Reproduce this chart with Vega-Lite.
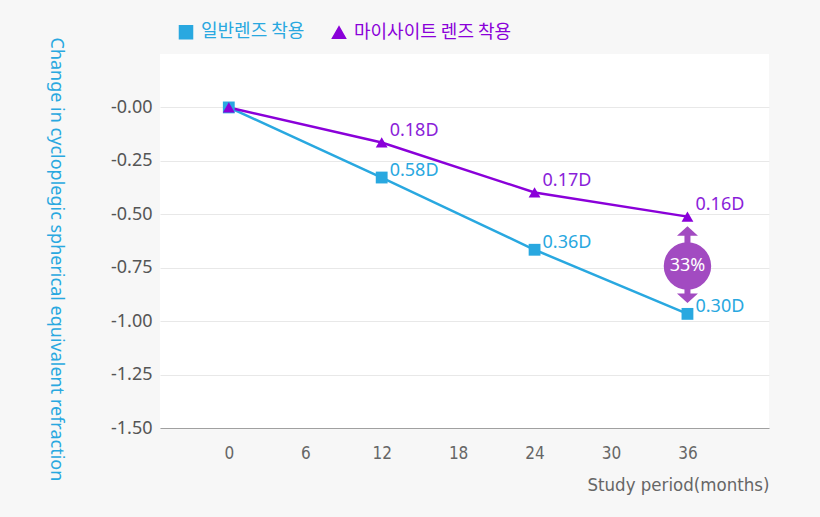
{
  "$schema": "https://vega.github.io/schema/vega-lite/v6.json",
  "width": 609,
  "height": 374,
  "autosize": {"type": "none"},
  "padding": {"left": 160, "top": 54, "right": 51, "bottom": 89},
  "background": "#f7f7f7",
  "config": {
    "view": {"fill": "white", "stroke": null},
    "font": "Noto Sans",
    "legend": {
      "orient": "top",
      "offset": -5,
      "padding": 17,
      "direction": "horizontal",
      "labelFont": "Noto Sans CJK KR",
      "labelFontSize": 18,
      "symbolSize": 170,
      "labelOffset": 6,
      "columnPadding": 24
    }
  },
  "datasets": {
    "series": [
      {"series": "일반렌즈 착용", "month": 0, "value": 0, "label": ""},
      {"series": "일반렌즈 착용", "month": 12, "value": -0.328, "label": "0.58D"},
      {"series": "일반렌즈 착용", "month": 24, "value": -0.666, "label": "0.36D"},
      {"series": "일반렌즈 착용", "month": 36, "value": -0.966, "label": "0.30D"},
      {"series": "마이사이트 렌즈 착용", "month": 0, "value": 0, "label": ""},
      {"series": "마이사이트 렌즈 착용", "month": 12, "value": -0.164, "label": "0.18D"},
      {"series": "마이사이트 렌즈 착용", "month": 24, "value": -0.398, "label": "0.17D"},
      {"series": "마이사이트 렌즈 착용", "month": 36, "value": -0.511, "label": "0.16D"}
    ]
  },
  "layer": [
    {
      "data": {"name": "series"},
      "mark": {"type": "line", "strokeWidth": 2.5},
      "encoding": {
        "x": {
          "field": "month",
          "type": "quantitative",
          "scale": {"domain": [-5.4, 42.4], "nice": false, "zero": false},
          "axis": {
            "values": [0, 6, 12, 18, 24, 30, 36],
            "grid": false,
            "ticks": false,
            "domain": true,
            "domainColor": "#a0a0a0",
            "labelFont": "DejaVu Sans Condensed",
            "labelFontSize": 17,
            "labelColor": "#666666",
            "labelPadding": 17,
            "title": "Study period(months)",
            "titleFont": "DejaVu Sans Condensed",
            "titleFontSize": 18.5,
            "titleFontWeight": "normal",
            "titleColor": "#666666",
            "titleAlign": "right",
            "titleBaseline": "alphabetic",
            "titleX": 609,
            "titleY": 62
          }
        },
        "y": {
          "field": "value",
          "type": "quantitative",
          "scale": {"domain": [-1.5, 0.25], "nice": false, "zero": false},
          "axis": {
            "values": [-1.5, -1.25, -1, -0.75, -0.5, -0.25, 0],
            "labelExpr": "'-' + format(abs(datum.value), '.2f')",
            "grid": true,
            "gridColor": "#e8e8e8",
            "ticks": false,
            "domain": false,
            "labelPadding": 8,
            "labelFontSize": 18,
            "labelColor": "#555555",
            "title": "Change in cycloplegic spherical equivalent refraction",
            "titleFontSize": 18,
            "titleFontWeight": "normal",
            "titleColor": "#29a8e0",
            "titleAngle": 90,
            "titleAlign": "left",
            "titleBaseline": "middle",
            "titleX": -105,
            "titleY": -17
          }
        },
        "color": {
          "field": "series",
          "type": "nominal",
          "scale": {"domain": ["일반렌즈 착용", "마이사이트 렌즈 착용"], "range": ["#29a8e0", "#8a00d9"]},
          "legend": {
            "title": null,
            "encode": {"labels": {"update": {"fill": {"scale": "color", "field": "value"}}}}
          }
        }
      }
    },
    {
      "data": {"name": "series"},
      "mark": {"type": "point", "filled": true, "opacity": 1, "size": 140},
      "encoding": {
        "x": {"field": "month", "type": "quantitative"},
        "y": {"field": "value", "type": "quantitative"},
        "color": {
          "field": "series",
          "type": "nominal",
          "scale": {"domain": ["일반렌즈 착용", "마이사이트 렌즈 착용"], "range": ["#29a8e0", "#8a00d9"]},
          "legend": {
            "title": null,
            "encode": {"labels": {"update": {"fill": {"scale": "color", "field": "value"}}}}
          }
        },
        "shape": {
          "field": "series",
          "type": "nominal",
          "scale": {"domain": ["일반렌즈 착용", "마이사이트 렌즈 착용"], "range": ["square", "triangle-up"]},
          "legend": {
            "title": null,
            "encode": {"labels": {"update": {"fill": {"scale": "color", "field": "value"}}}}
          }
        }
      }
    },
    {
      "data": {"name": "series"},
      "transform": [{"filter": "datum.series == '일반렌즈 착용'"}],
      "mark": {"type": "text", "align": "left", "baseline": "middle", "dx": 8, "dy": -7, "fontSize": 18, "color": "#29a8e0"},
      "encoding": {
        "x": {"field": "month", "type": "quantitative"},
        "y": {"field": "value", "type": "quantitative"},
        "text": {"field": "label"}
      }
    },
    {
      "data": {"name": "series"},
      "transform": [{"filter": "datum.series == '마이사이트 렌즈 착용'"}],
      "mark": {"type": "text", "align": "left", "baseline": "middle", "dx": 8, "dy": -11.5, "fontSize": 18, "color": "#8a1ed9"},
      "encoding": {
        "x": {"field": "month", "type": "quantitative"},
        "y": {"field": "value", "type": "quantitative"},
        "text": {"field": "label"}
      }
    },
    {
      "data": {"values": [{"month": 36, "top": -0.58, "bottom": -0.89}]},
      "mark": {"type": "rule", "strokeWidth": 6, "color": "#a24bc1"},
      "encoding": {
        "x": {"field": "month", "type": "quantitative"},
        "y": {"field": "top", "type": "quantitative"},
        "y2": {"field": "bottom"}
      }
    },
    {
      "data": {"values": [{"month": 36, "value": -0.578}]},
      "mark": {"type": "point", "filled": true, "opacity": 1, "size": 440, "color": "#a24bc1", "shape": "M-1,0.45L1,0.45L0,-0.45Z"},
      "encoding": {
        "x": {"field": "month", "type": "quantitative"},
        "y": {"field": "value", "type": "quantitative"}
      }
    },
    {
      "data": {"values": [{"month": 36, "value": -0.893}]},
      "mark": {"type": "point", "filled": true, "opacity": 1, "size": 440, "color": "#a24bc1", "shape": "M-1,-0.45L1,-0.45L0,0.45Z"},
      "encoding": {
        "x": {"field": "month", "type": "quantitative"},
        "y": {"field": "value", "type": "quantitative"}
      }
    },
    {
      "data": {"values": [{"month": 36, "value": -0.742, "label": "33%"}]},
      "mark": {"type": "circle", "size": 2250, "opacity": 1, "color": "#a24bc1"},
      "encoding": {
        "x": {"field": "month", "type": "quantitative"},
        "y": {"field": "value", "type": "quantitative"}
      }
    },
    {
      "data": {"values": [{"month": 36, "value": -0.742, "label": "33%"}]},
      "mark": {"type": "text", "align": "center", "baseline": "middle", "fontSize": 18, "color": "white"},
      "encoding": {
        "x": {"field": "month", "type": "quantitative"},
        "y": {"field": "value", "type": "quantitative"},
        "text": {"field": "label"}
      }
    }
  ]
}
